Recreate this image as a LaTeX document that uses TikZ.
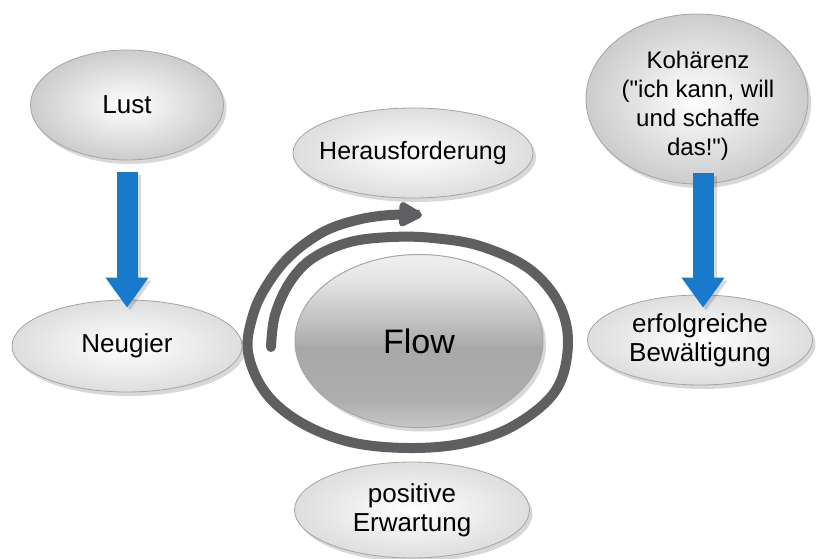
\documentclass[tikz,border=0pt]{standalone}
\usepackage{fontspec}
\setmainfont{Liberation Sans}
\usetikzlibrary{shapes.geometric,shadows,arrows.meta}
\definecolor{arrowblue}{RGB}{24,122,202}
\definecolor{spiralgray}{RGB}{95,95,97}
\definecolor{rimcol}{RGB}{172,162,154}
\pgfdeclareverticalshading{flowshade}{100bp}{color(0bp)=(black!22); color(25bp)=(black!22); color(33bp)=(black!32); color(48bp)=(black!34); color(56bp)=(black!24); color(68bp)=(black!10); color(75bp)=(black!6); color(100bp)=(black!6)}
\begin{document}
\begin{tikzpicture}[x=1pt,y=-1pt,
  bubble/.style={ellipse, draw=rimcol, line width=0.8pt, inner sep=0pt, align=center,
     inner color=white, outer color=gray!26,
     drop shadow={shadow xshift=3pt, shadow yshift=-4pt, opacity=0.28, fill=black!55},
     font=\fontsize{26}{29}\selectfont},
  darkbubble/.style={bubble, outer color=gray!40},
  flowbubble/.style={ellipse, draw=gray!70, line width=1pt, inner sep=0pt,
     shading=flowshade,
     drop shadow={shadow xshift=3pt, shadow yshift=-4pt, opacity=0.28, fill=black!55},
     font=\fontsize{34}{38}\selectfont},
  bluearr/.style={draw=arrowblue, line width=21pt, -{Triangle[width=41pt,length=30pt]}},
  bluearrshadow/.style={draw=black, opacity=0.15, line width=21pt, -{Triangle[width=41pt,length=30pt]}},
  spiral/.style={draw=spiralgray, line width=10pt, line cap=round, -{Triangle[width=27pt,length=27pt,round]}}
]
\useasboundingbox (0,0) rectangle (819,559);
\fill[white] (0,0) rectangle (819,559);

% bubbles
\node[darkbubble, minimum width=193pt, minimum height=110pt] (lust) at (127,105) {Lust};
\node[bubble, minimum width=230pt, minimum height=92pt] (neugier) at (127,346) {Neugier};
\node[bubble, minimum width=240pt, minimum height=90pt, font=\fontsize{25}{29}\selectfont] (heraus) at (413,153) {\makebox[0pt]{Herausforderung}};
\node[flowbubble, minimum width=248pt, minimum height=173pt] (flow) at (419,341) {Flow};
\node[bubble, minimum width=235pt, minimum height=96pt] (positiv) at (412,510) {positive\\Erwartung};
\node[darkbubble, minimum width=222pt, minimum height=170pt] (koh) at (697,99) {};
\node[align=center, inner sep=0pt, font=\fontsize{24}{29}\selectfont] (kohtext) at (698,106) {Kohärenz\\(\textquotedbl ich kann, will\\und schaffe\\das!\textquotedbl)};
\node[bubble, minimum width=225pt, minimum height=90pt] (bew) at (700,340) {erfolgreiche\\Bewältigung};

% blue arrows
\draw[bluearrshadow] ([xshift=3pt,yshift=-15pt]lust.south) -- ([xshift=3pt,yshift=-11pt]neugier.north);
\draw[bluearr] ([yshift=-12pt]lust.south) -- ([yshift=-8pt]neugier.north);
\draw[bluearrshadow] ([xshift=9pt,yshift=8pt]koh.south) -- ([xshift=6pt,yshift=-16pt]bew.north);
\draw[bluearr] ([xshift=6pt,yshift=11pt]koh.south) -- ([xshift=3pt,yshift=-13pt]bew.north);

% spiral around Flow
\draw[spiral] plot[smooth, tension=0.6] coordinates {
  (271,347) (275,315) (290,282) (313,258) (350,242) (392,237) (433,238)
  (480,246) (528,268) (558,302) (568,343) (556,390) (515,425) (465,443)
  (409,448) (350,442) (300,422) (265,392) (248,352) (253,315) (267,285)
  (290,256) (323,232) (357,220) (390,215) (422,215)};
\end{tikzpicture}
\end{document}
